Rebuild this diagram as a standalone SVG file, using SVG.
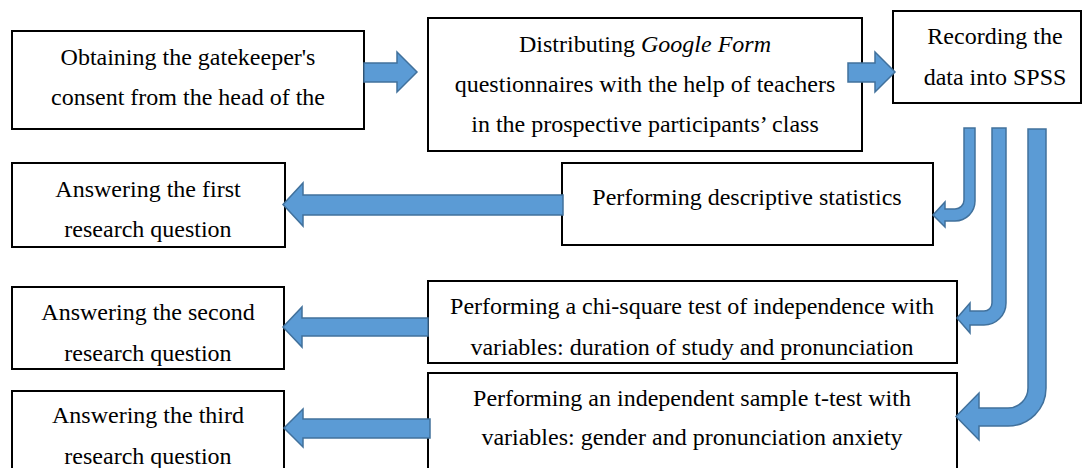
<svg xmlns="http://www.w3.org/2000/svg" width="1087" height="468" viewBox="0 0 1087 468">
<style>
.box{fill:#fff;stroke:#000;stroke-width:2}
.t{font-family:"Liberation Serif","Times New Roman",serif;font-size:24px;fill:#000;text-anchor:middle}
.arr{fill:#5B9BD5;stroke:#41719C;stroke-width:1.5;stroke-linejoin:miter}
</style>
<rect width="1087" height="468" fill="#fff"/>
<g id="n1"><rect class="box" x="12" y="31" width="352" height="98"/>
<text class="t" x="188" y="65">Obtaining the gatekeeper's</text>
<text class="t" x="188" y="105">consent from the head of the</text></g>
<g id="n2"><rect class="box" x="428" y="18" width="434" height="133"/>
<text class="t" x="645" y="52">Distributing <tspan font-style="italic">Google Form</tspan></text>
<text class="t" x="645" y="92">questionnaires with the help of teachers</text>
<text class="t" x="645" y="132">in the prospective participants’ class</text></g>
<g id="n3"><rect class="box" x="893" y="11" width="188" height="92"/>
<text class="t" x="995" y="44">Recording the</text>
<text class="t" x="995" y="85">data into SPSS</text></g>
<g id="n4"><rect class="box" x="12" y="163" width="273" height="84"/>
<text class="t" x="148" y="197">Answering the first</text>
<text class="t" x="148" y="237">research question</text></g>
<g id="n5"><rect class="box" x="562" y="163" width="371" height="82"/>
<text class="t" x="747" y="205">Performing descriptive statistics</text></g>
<g id="n6"><rect class="box" x="12" y="287" width="272" height="82"/>
<text class="t" x="148" y="320">Answering the second</text>
<text class="t" x="148" y="361">research question</text></g>
<g id="n7"><rect class="box" x="428" y="281" width="529" height="82"/>
<text class="t" x="692" y="314">Performing a chi-square test of independence with</text>
<text class="t" x="692" y="355">variables: duration of study and pronunciation</text></g>
<g id="n8"><rect class="box" x="12" y="391" width="272" height="90"/>
<text class="t" x="148" y="423">Answering the third</text>
<text class="t" x="148" y="464">research question</text></g>
<g id="n9"><rect class="box" x="428" y="373" width="529" height="110"/>
<text class="t" x="692" y="406">Performing an independent sample t-test with</text>
<text class="t" x="692" y="445">variables: gender and pronunciation anxiety</text></g>
<g id="connectors">
<path class="arr" d="M364,63 L397,63 L397,52 L417,72 L397,92 L397,82 L364,82 Z"/>
<path class="arr" d="M848,63 L875,63 L875,52 L895,72 L875,92 L875,82 L848,82 Z"/>
<path class="arr" d="M563,195 L303,195 L303,183 L283,204.5 L303,226 L303,215 L563,215 Z"/>
<path class="arr" d="M428,318 L302,318 L302,307 L283,327 L302,347 L302,336 L428,336 Z"/>
<path class="arr" d="M430,419 L303,419 L303,409 L284,428 L303,447 L303,438 L430,438 Z"/>
<path class="arr" d="M964,128 L975,128 L975,201 A20,20 0 0 1 955,221 L945,221 L945,227 L933,215 L945,202 L945,209 L955,209 A9,9 0 0 0 964,200 Z"/>
<path class="arr" d="M992,128 L1006,128 L1006,303 A22,22 0 0 1 984,325 L970,325 L970,333 L957,318 L970,303 L970,311 L984,311 A8,8 0 0 0 992,303 Z"/>
<path class="arr" d="M1028,129 L1046,129 L1046,388 A38,38 0 0 1 1008,426 L979,426 L979,440 L956,416.5 L979,393 L979,408 L1008,408 A20,20 0 0 0 1028,388 Z"/>
</g>
</svg>
